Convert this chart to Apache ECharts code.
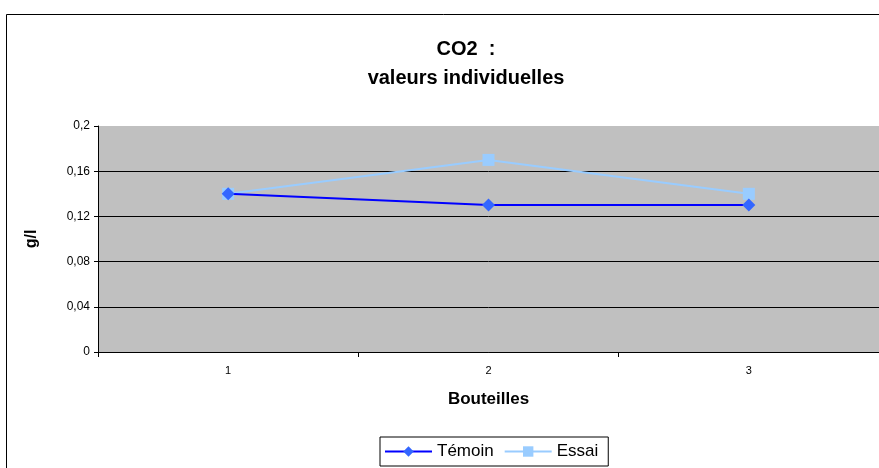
<!DOCTYPE html>
<html><head><meta charset="utf-8">
<script src="https://cdn.jsdelivr.net/npm/echarts@6/dist/echarts.min.js"></script>
<style>html,body{margin:0;padding:0;background:#fff}#c{width:879px;height:468px}</style>
</head><body><div id="c"></div>
<script>
const categories = ['1', '2', '3'];
const temoin = [0.14, 0.13, 0.13];
const essai = [0.14, 0.17, 0.14];
const yTicks = [0, 0.04, 0.08, 0.12, 0.16, 0.2];

const chart = echarts.init(document.getElementById('c'));
const font = 'Liberation Sans, Arial, sans-serif';
chart.setOption({
  animation: false,
  backgroundColor: '#fff',
  graphic: [{
    type: 'rect', shape: { x: 6.5, y: 14.5, width: 1000, height: 600 },
    style: { fill: 'none', stroke: '#000', lineWidth: 1 }, silent: true, z: -10
  }],
  title: {
    text: 'CO2  :\nvaleurs individuelles',
    left: 461, textAlign: 'center', top: 30,
    textStyle: { fontFamily: font, fontSize: 20, fontWeight: 'bold', color: '#000', lineHeight: 29 }
  },
  legend: {
    data: ['Témoin', 'Essai'],
    left: 380, top: 437,
    itemWidth: 47, itemHeight: 13, itemGap: 10,
    padding: [6, 10, 6, 4],
    borderColor: '#000', borderWidth: 1,
    textStyle: { fontFamily: font, fontSize: 17, color: '#000' }
  },
  grid: { left: 98, top: 126, right: 0, bottom: 116, containLabel: false,
    show: true, backgroundColor: '#c0c0c0', borderWidth: 0 },
  xAxis: {
    type: 'category', data: categories, boundaryGap: true,
    name: 'Bouteilles', nameLocation: 'middle', nameGap: 39,
    nameTextStyle: { fontFamily: font, fontSize: 17, fontWeight: 'bold', color: '#000' },
    axisLine: { lineStyle: { color: '#000', width: 1 } },
    axisTick: { show: true, length: 5, lineStyle: { color: '#000' } },
    axisLabel: { fontFamily: font, fontSize: 11, color: '#000', margin: 13 }
  },
  yAxis: {
    type: 'value', min: 0, max: 0.2, interval: 0.04,
    name: 'g/l', nameLocation: 'middle', nameGap: 58, nameRotate: 90,
    nameTextStyle: { fontFamily: font, fontSize: 16, fontWeight: 'bold', color: '#000' },
    axisLine: { show: true, lineStyle: { color: '#000', width: 1 } },
    axisTick: { show: true, length: 4, lineStyle: { color: '#000' } },
    axisLabel: { fontFamily: font, fontSize: 12, color: '#000', margin: 8,
      formatter: v => yTicks.includes(+v.toFixed(2)) ? String(+v.toFixed(2)).replace('.', ',') : '' },
    splitLine: { show: true, showMaxLine: false, lineStyle: { color: '#000', width: 1 } }
  },
  series: [
    { name: 'Témoin', type: 'line', data: temoin, symbol: 'diamond', symbolSize: 13,
      lineStyle: { color: '#0000ff', width: 2 }, itemStyle: { color: '#3366ff' }, z: 3 },
    { name: 'Essai', type: 'line', data: essai, symbol: 'rect', symbolSize: 12,
      lineStyle: { color: '#99ccff', width: 2 }, itemStyle: { color: '#99ccff' }, z: 2 }
  ]
});
</script></body></html>
